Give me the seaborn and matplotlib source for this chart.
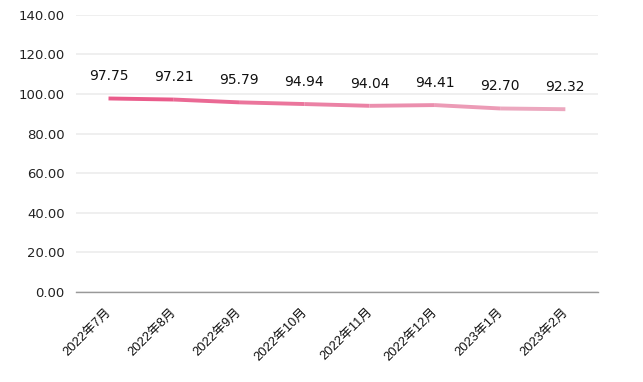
import numpy as np
import pandas as pd
import matplotlib
matplotlib.use("Agg")
import matplotlib.pyplot as plt
import seaborn as sns
from matplotlib.colors import to_rgb

months = ["2022年7月", "2022年8月", "2022年9月", "2022年10月",
          "2022年11月", "2022年12月", "2023年1月", "2023年2月"]
values = [97.75, 97.21, 95.79, 94.94, 94.04, 94.41, 92.70, 92.32]
y_ticks = [0, 20, 40, 60, 80, 100, 120, 140]

sns.set_style("white")
plt.rcParams["font.family"] = ["DejaVu Sans", "Noto Sans CJK SC"]

fig = plt.figure(figsize=(6.43, 3.82), dpi=100)
ax = fig.add_axes([0.118, 0.236, 0.812, 0.725])

df = pd.DataFrame({"month": months, "value": values, "x": np.arange(len(months))})

# gradient line: one segment at a time
c0 = np.array(to_rgb("#ea5c8b"))
c1 = np.array(to_rgb("#eca8bf"))
n = len(df)
for i in range(n - 1):
    t = i / (n - 2)
    seg = df.iloc[i:i + 2]
    sns.lineplot(data=seg, x="x", y="value", color=tuple(c0 + (c1 - c0) * t),
                 linewidth=2.8, solid_capstyle="butt", ax=ax)

for _, r in df.iterrows():
    ax.annotate(f"{r['value']:.2f}", (r["x"], r["value"]), xytext=(0, 16),
                textcoords="offset points", ha="center", va="center",
                fontsize=10, color="#111111")

# rotated category labels, ending just right of each tick like the original
for _, r in df.iterrows():
    ax.annotate(r["month"], (r["x"], 0), xycoords=("data", "axes fraction"),
                xytext=(0.5, -13), textcoords="offset points", rotation=45,
                ha="right", va="center", rotation_mode="anchor", fontsize=9.3,
                family=["Liberation Sans", "Noto Sans CJK SC"], color="#111111")

ax.set_xlim(-0.5, n - 0.5)
ax.set_ylim(0, 140)
ax.set_yticks(y_ticks)
ax.set_yticklabels([f"{v:.2f}" for v in y_ticks], fontsize=9.5, color="#222222")
ax.set_xticks(df["x"])
ax.set_xticklabels([])

ax.grid(axis="y", color="#eeeeee", linewidth=1.3)
ax.set_axisbelow(True)
ax.tick_params(axis="y", length=0, pad=8)
ax.tick_params(axis="x", length=0)
for s in ["top", "right", "left"]:
    ax.spines[s].set_visible(False)
ax.spines["bottom"].set_color("#999999")
ax.spines["bottom"].set_linewidth(1.0)
ax.set_xlabel("")
ax.set_ylabel("")

fig.savefig("out.png", dpi=100)
